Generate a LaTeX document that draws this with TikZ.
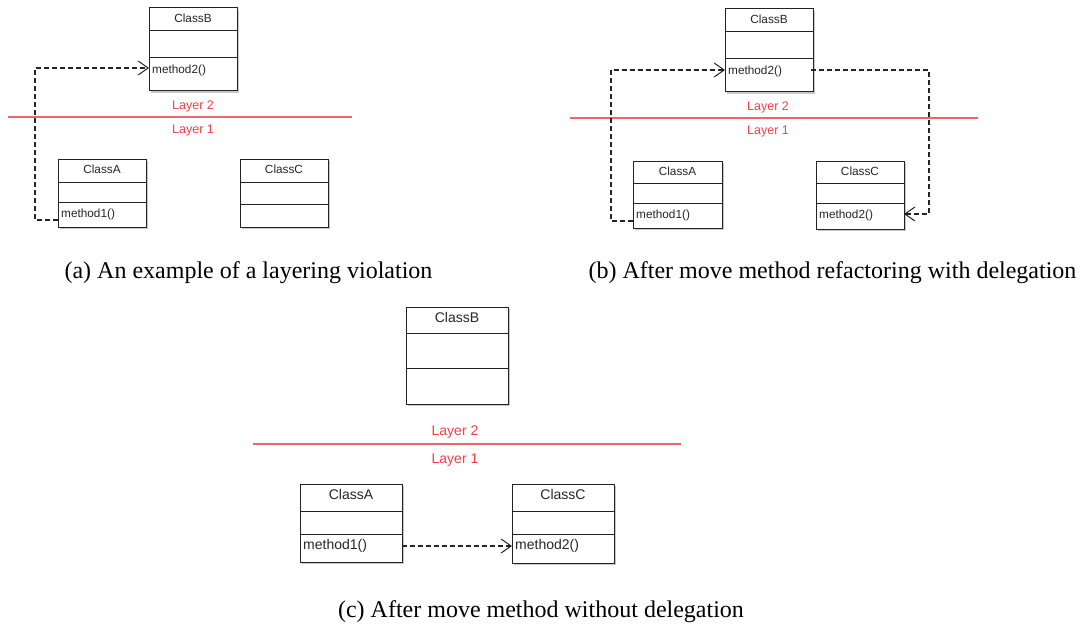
\documentclass[tikz,border=0pt]{standalone}
\usepackage{fontspec}
\setmainfont{Liberation Serif}
\newfontfamily\umlfont{Liberation Sans}
\usetikzlibrary{arrows.meta}

\definecolor{umlline}{RGB}{35,35,35}
\definecolor{umlshadow}{RGB}{200,200,200}
\definecolor{layertext}{RGB}{250,60,70}
\definecolor{layerrule}{RGB}{240,100,110}

\tikzset{
  compartment/.style={draw=umlline, line width=1pt, fill=white, inner sep=0pt,
    anchor=north west, outer sep=0pt},
  classtitle/.style={inner sep=0pt, anchor=center, text=black!85},
  optext/.style={inner sep=0pt, anchor=west, text=black!85},
  dep/.style={draw=umlline, line width=1.1pt, dash pattern=on 5pt off 3pt,
    -{Straight Barb[length=10pt,width=14pt,line width=1pt]}},
  layerline/.style={draw=layerrule, line width=1.1pt},
  layerlabel/.style={text=layertext, inner sep=0pt},
  caption/.style={inner sep=0pt, font=\fontsize{24}{28}\selectfont}
}

% #1 name, #2 left, #3 top, #4 right, #5 first rule, #6 second rule,
% #7 bottom, #8 class name, #9 operation text
\newcommand\umlclassbox[9]{%
  \fill[umlshadow] (#2+2,#3+2) rectangle (#4+2,#7+2);
  \node[compartment, minimum width={(#4-#2)*1pt}, minimum height={(#5-#3)*1pt}]
    (#1-head) at (#2,#3) {};
  \node[compartment, minimum width={(#4-#2)*1pt}, minimum height={(#6-#5)*1pt}]
    (#1-attr) at (#2,#5) {};
  \node[compartment, minimum width={(#4-#2)*1pt}, minimum height={(#7-#6)*1pt}]
    (#1-ops) at (#2,#6) {};
  \node[classtitle] (#1-name) at ({(#2+#4)/2},{#3+10}) {#8};
  \node[optext] (#1-op) at ({#2+3},{#6+12}) {#9};
}

\begin{document}
\begin{tikzpicture}[x=1pt,y=-1pt]
\useasboundingbox (0,0) rectangle (1080,626);

% ---------- (a) layering violation ----------
\begin{scope}[font=\umlfont\fontsize{11.8}{13}\selectfont]
\umlclassbox{aB}{149}{8}{237}{31}{58}{91}{ClassB}{method2()}
\umlclassbox{aA}{58}{159}{146}{182}{202}{227}{ClassA}{method1()}
\umlclassbox{aC}{240}{159}{328}{182}{204}{227}{ClassC}{}
\end{scope}
\draw[layerline] (8,117) -- (352,117);
\node[layerlabel, font=\umlfont\fontsize{12.5}{14}\selectfont] (aL2) at (193,106) {Layer 2};
\node[layerlabel, font=\umlfont\fontsize{12.5}{14}\selectfont] (aL1) at (193,130) {Layer 1};
\coordinate (aRail) at (35,0);
\coordinate (aA-out) at ([yshift=-18pt]aA-ops.north west);
\coordinate (aB-in) at ([yshift=-10pt]aB-ops.north west);
\draw[dep] (aA-out) -- (aA-out -| aRail) |- (aB-in);

% ---------- (b) move method with delegation ----------
\begin{scope}[font=\umlfont\fontsize{11.8}{13}\selectfont]
\umlclassbox{bB}{725}{9}{813}{32}{59}{92}{ClassB}{method2()}
\umlclassbox{bA}{633}{161}{722}{183}{203}{228}{ClassA}{method1()}
\umlclassbox{bC}{816}{161}{904}{183}{203}{229}{ClassC}{method2()}
\end{scope}
\draw[layerline] (570,118) -- (978,118);
\node[layerlabel, font=\umlfont\fontsize{12.5}{14}\selectfont] (bL2) at (768,107) {Layer 2};
\node[layerlabel, font=\umlfont\fontsize{12.5}{14}\selectfont] (bL1) at (768,131) {Layer 1};
\coordinate (bRailL) at (611,0);
\coordinate (bRailR) at (929,0);
\coordinate (bA-out) at ([yshift=-18pt]bA-ops.north west);
\coordinate (bB-in) at ([yshift=-11pt]bB-ops.north west);
\coordinate (bB-out) at ([yshift=-11pt,xshift=-2pt]bB-ops.north east);
\coordinate (bC-in) at ([yshift=-11pt]bC-ops.north east);
\draw[dep] (bA-out) -- (bA-out -| bRailL) |- (bB-in);
\draw[dep] (bB-out) -- (bB-out -| bRailR) |- (bC-in);

% ---------- (c) move method without delegation ----------
\begin{scope}[font=\umlfont\fontsize{14}{16}\selectfont]
\umlclassbox{cB}{406}{307}{508}{333}{368}{404}{ClassB}{}
\umlclassbox{cA}{300}{484}{402}{511}{534}{562}{ClassA}{method1()}
\umlclassbox{cC}{512}{484}{614}{511}{534}{563}{ClassC}{method2()}
\end{scope}
\draw[layerline] (253,444) -- (681,444);
\node[layerlabel, font=\umlfont\fontsize{14}{16}\selectfont] (cL2) at (455,432) {Layer 2};
\node[layerlabel, font=\umlfont\fontsize{14}{16}\selectfont] (cL1) at (455,460) {Layer 1};
\coordinate (cA-out) at ([yshift=-12pt]cA-ops.north east);
\coordinate (cC-in) at ([yshift=-12pt]cC-ops.north west);
\draw[dep] (cA-out) -- (cC-in);

% ---------- captions ----------
\node[caption] (capA) at (248.5,273) {(a) An example of a layering violation};
\node[caption] (capB) at (832.5,273) {(b) After move method refactoring with delegation};
\node[caption] (capC) at (541,612) {(c) After move method without delegation};
\end{tikzpicture}
\end{document}
